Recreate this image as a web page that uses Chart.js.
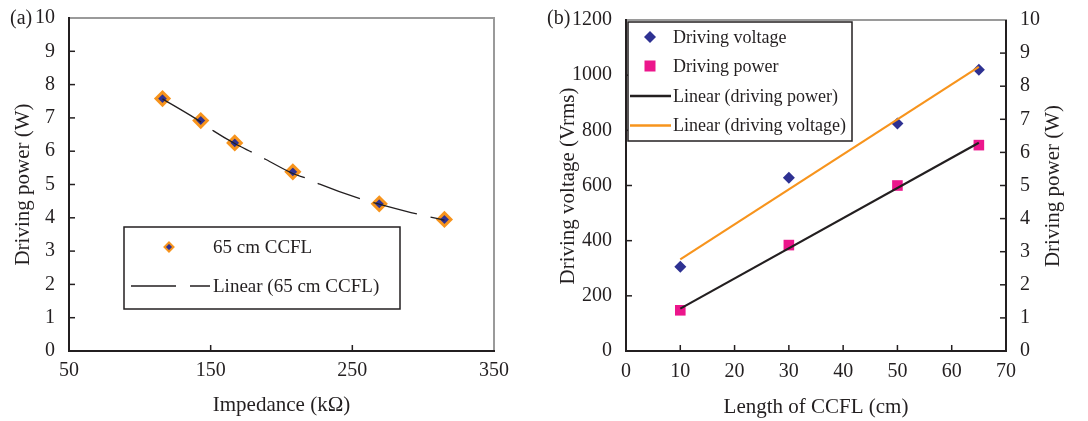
<!DOCTYPE html>
<html>
<head>
<meta charset="utf-8">
<title>CCFL driving power</title>
<script src="https://cdn.jsdelivr.net/npm/chart.js@4"></script>
<style>
  body { margin: 0; background: #fff; width: 1088px; height: 421px; position: relative; overflow: hidden; }
  canvas { position: absolute; top: 0; }
  #chartA { left: 0; }
  #chartB { left: 540px; }
</style>
</head>
<body>
<canvas id="chartA" width="530" height="421"></canvas>
<canvas id="chartB" width="548" height="421"></canvas>
<script>
// (a) impedance vs driving power, 65 cm lamp
const impedance = [116, 143, 167, 208, 269, 315];
const powerA = [7.58, 6.92, 6.25, 5.38, 4.42, 3.95];
// points
const trendImpedance = [116, 143, 152, 167, 180, 189, 208, 218, 227, 257, 269, 296, 315];
const trendPowerA = [7.57, 6.88, 6.61, 6.23, 5.95, 5.75, 5.33, 5.18, 5.01, 4.55, 4.41, 4.11, 3.93];

// (b) lamp length vs driving voltage / power
const lengthCm = [10, 30, 50, 65];
const voltageB = [305, 628, 825, 1020];
const powerB = [1.23, 3.2, 5.0, 6.22];
const fitLength = [10, 65];
const fitVoltage = [332, 1030];
const fitPower = [1.28, 6.29];

const ink = "#231f20";
const navy = "#2e3192";
const orange = "#f7941d";
const magenta = "#ec168c";
const frameGray = "#9a9a9a";
const serif = "'Liberation Serif', 'Times New Roman', serif";

Chart.defaults.font.family = serif;
Chart.defaults.color = ink;

const pairs = (xs, ys) => xs.map((x, i) => ({ x, y: ys[i] }));
const plain = (v) => String(v);

function tickFont() {
  return { family: serif, size: 20 };
}

// axis lines, inward tick marks, titles and panel letter
function framePlugin(cfg) {
  return {
    id: "frame",
    afterDraw(chart) {
      const { ctx, chartArea: a } = chart;
      ctx.save();
      ctx.strokeStyle = ink;
      ctx.lineWidth = 1.5;
      cfg.ticks.forEach(([axis, side]) => {
        const s = chart.scales[axis];
        s.ticks.forEach((t) => {
          const p = s.getPixelForValue(t.value);
          ctx.beginPath();
          if (side === "bottom") { ctx.moveTo(p, a.bottom); ctx.lineTo(p, a.bottom - 6); }
          if (side === "left") { ctx.moveTo(a.left, p); ctx.lineTo(a.left + 6, p); }
          if (side === "right") { ctx.moveTo(a.right, p); ctx.lineTo(a.right - 6, p); }
          ctx.stroke();
        });
      });

      const edge = (color, x1, y1, x2, y2) => {
        ctx.strokeStyle = color;
        ctx.lineWidth = 2;
        ctx.beginPath();
        ctx.moveTo(x1, y1);
        ctx.lineTo(x2, y2);
        ctx.stroke();
      };
      edge(cfg.topColor, a.left, a.top, a.right + 1, a.top);
      edge(cfg.rightColor, a.right, a.top, a.right, a.bottom);
      edge(ink, a.left, a.top - 1, a.left, a.bottom + 1);
      edge(ink, a.left - 1, a.bottom, a.right + 1, a.bottom);

      ctx.fillStyle = ink;
      ctx.textBaseline = "middle";
      ctx.font = "21px " + serif;
      cfg.titles.forEach((t) => {
        ctx.save();
        ctx.translate(t.x, t.y);
        if (t.rotate) ctx.rotate(-Math.PI / 2);
        ctx.textAlign = "center";
        ctx.fillText(t.text, 0, 0);
        ctx.restore();
      });
      ctx.font = "20px " + serif;
      ctx.textAlign = "left";
      ctx.fillText(cfg.panel.text, cfg.panel.x, cfg.panel.y);
      ctx.restore();
    },
  };
}

function legendPlugin(cfg) {
  return {
    id: "boxLegend",
    afterDraw(chart) {
      const ctx = chart.ctx;
      const b = cfg.box;
      ctx.save();
      ctx.fillStyle = "#fff";
      ctx.fillRect(b.x, b.y, b.w, b.h);
      ctx.strokeStyle = ink;
      ctx.lineWidth = 1.5;
      ctx.strokeRect(b.x, b.y, b.w, b.h);
      ctx.font = cfg.fontSize + "px " + serif;
      ctx.textBaseline = "middle";
      cfg.items.forEach((it) => {
        const cx = it.markX, cy = it.y;
        if (it.kind === "diamond") {
          ctx.beginPath();
          ctx.moveTo(cx, cy - it.r);
          ctx.lineTo(cx + it.r, cy);
          ctx.lineTo(cx, cy + it.r);
          ctx.lineTo(cx - it.r, cy);
          ctx.closePath();
          ctx.fillStyle = navy;
          ctx.fill();
          if (it.stroke) {
            ctx.strokeStyle = it.stroke;
            ctx.lineWidth = 2;
            ctx.stroke();
          }
        } else if (it.kind === "square") {
          ctx.fillStyle = magenta;
          ctx.fillRect(cx - it.r, cy - it.r, it.r * 2, it.r * 2);
        } else if (it.kind === "line") {
          ctx.strokeStyle = it.color;
          ctx.lineWidth = it.width;
          ctx.setLineDash(it.dash || []);
          ctx.beginPath();
          ctx.moveTo(it.x1, cy);
          ctx.lineTo(it.x2, cy);
          ctx.stroke();
          ctx.setLineDash([]);
        }
        ctx.fillStyle = ink;
        ctx.fillText(it.text, cfg.textX, cy + 1);
      });
      ctx.restore();
    },
  };
}

// ---------- (a) ----------
new Chart(document.getElementById("chartA"), {
  type: "scatter",
  data: {
    datasets: [
      {
        label: "Linear (65 cm CCFL)",
        data: pairs(trendImpedance, trendPowerA),
        showLine: true,
        borderColor: ink,
        borderWidth: 1.3,
        borderDash: [45, 14],
        cubicInterpolationMode: "monotone",
        pointRadius: 0,
      },
      {
        label: "65 cm CCFL",
        data: pairs(impedance, powerA),
        pointStyle: "rectRot",
        pointRadius: 6.5,
        backgroundColor: navy,
        borderColor: orange,
        borderWidth: 3,
      },
    ],
  },
  options: {
    responsive: false,
    animation: false,
    layout: { padding: { left: 0, top: 18, right: 36, bottom: 0 } },
    plugins: { legend: { display: false }, tooltip: { enabled: false } },
    scales: {
      x: {
        type: "linear",
        min: 50,
        max: 350,
        ticks: { stepSize: 100, font: tickFont(), color: ink, padding: 0, callback: plain },
        grid: { display: false },
        border: { display: false },
        afterFit: (s) => { s.height = 70; },
      },
      y: {
        min: 0,
        max: 10,
        ticks: { stepSize: 1, font: tickFont(), color: ink, padding: 6, callback: plain },
        grid: { display: false },
        border: { display: false },
        afterFit: (s) => { s.width = 69; },
      },
    },
  },
  plugins: [
    framePlugin({
      ticks: [["x", "bottom"], ["y", "left"]],
      topColor: frameGray,
      rightColor: frameGray,
      titles: [
        { text: "Driving power (W)", x: 23, y: 184.5, rotate: true },
        { text: "Impedance (k\u03a9)", x: 281.5, y: 405 },
      ],
      panel: { text: "(a)", x: 10, y: 19 },
    }),
    legendPlugin({
      box: { x: 124, y: 227, w: 276, h: 82 },
      fontSize: 19,
      textX: 213,
      items: [
        { kind: "diamond", markX: 169, y: 247, r: 4.5, stroke: orange, text: "65 cm CCFL" },
        { kind: "line", markX: 0, x1: 131, x2: 210, y: 286, color: ink, width: 1.3, dash: [45, 14], text: "Linear (65 cm CCFL)" },
      ],
    }),
  ],
});

// ---------- (b) ----------
new Chart(document.getElementById("chartB"), {
  type: "scatter",
  data: {
    datasets: [
      {
        label: "Linear (driving power)",
        data: pairs(fitLength, fitPower),
        yAxisID: "y2",
        showLine: true,
        borderColor: ink,
        borderWidth: 2.2,
        pointRadius: 0,
      },
      {
        label: "Linear (driving voltage)",
        data: pairs(fitLength, fitVoltage),
        yAxisID: "y",
        showLine: true,
        borderColor: orange,
        borderWidth: 2.2,
        pointRadius: 0,
      },
      {
        label: "Driving voltage",
        data: pairs(lengthCm, voltageB),
        yAxisID: "y",
        pointStyle: "rectRot",
        pointRadius: 6,
        backgroundColor: navy,
        borderWidth: 0,
      },
      {
        label: "Driving power",
        data: pairs(lengthCm, powerB),
        yAxisID: "y2",
        pointStyle: "rect",
        pointRadius: 7.5,
        backgroundColor: magenta,
        borderWidth: 0,
      },
    ],
  },
  options: {
    responsive: false,
    animation: false,
    layout: { padding: { left: 0, top: 20, right: 0, bottom: 0 } },
    plugins: { legend: { display: false }, tooltip: { enabled: false } },
    scales: {
      x: {
        type: "linear",
        min: 0,
        max: 70,
        ticks: { stepSize: 10, font: tickFont(), color: ink, padding: 1, callback: plain },
        grid: { display: false },
        border: { display: false },
        afterFit: (s) => { s.height = 70; },
      },
      y: {
        position: "left",
        min: 0,
        max: 1200,
        ticks: { stepSize: 200, font: tickFont(), color: ink, padding: 6, callback: plain },
        grid: { display: false },
        border: { display: false },
        afterFit: (s) => { s.width = 86; },
      },
      y2: {
        position: "right",
        min: 0,
        max: 10,
        ticks: { stepSize: 1, font: tickFont(), color: ink, padding: 6, callback: plain },
        grid: { display: false },
        border: { display: false },
        afterFit: (s) => { s.width = 82; },
      },
    },
  },
  plugins: [
    framePlugin({
      ticks: [["x", "bottom"], ["y", "left"], ["y2", "right"]],
      topColor: frameGray,
      rightColor: ink,
      titles: [
        { text: "Driving voltage (Vrms)", x: 28, y: 186, rotate: true },
        { text: "Driving power (W)", x: 513, y: 186, rotate: true },
        { text: "Length of CCFL (cm)", x: 276, y: 407 },
      ],
      panel: { text: "(b)", x: 7, y: 19 },
    }),
    legendPlugin({
      box: { x: 88, y: 22, w: 224, h: 119 },
      fontSize: 18,
      textX: 133,
      items: [
        { kind: "diamond", markX: 110, y: 37, r: 6, text: "Driving voltage" },
        { kind: "square", markX: 110, y: 66, r: 5.5, text: "Driving power" },
        { kind: "line", markX: 0, x1: 90, x2: 131, y: 96, color: ink, width: 2.5, text: "Linear (driving power)" },
        { kind: "line", markX: 0, x1: 90, x2: 131, y: 125.5, color: orange, width: 2.5, text: "Linear (driving voltage)" },
      ],
    }),
  ],
});
</script>
</body>
</html>
